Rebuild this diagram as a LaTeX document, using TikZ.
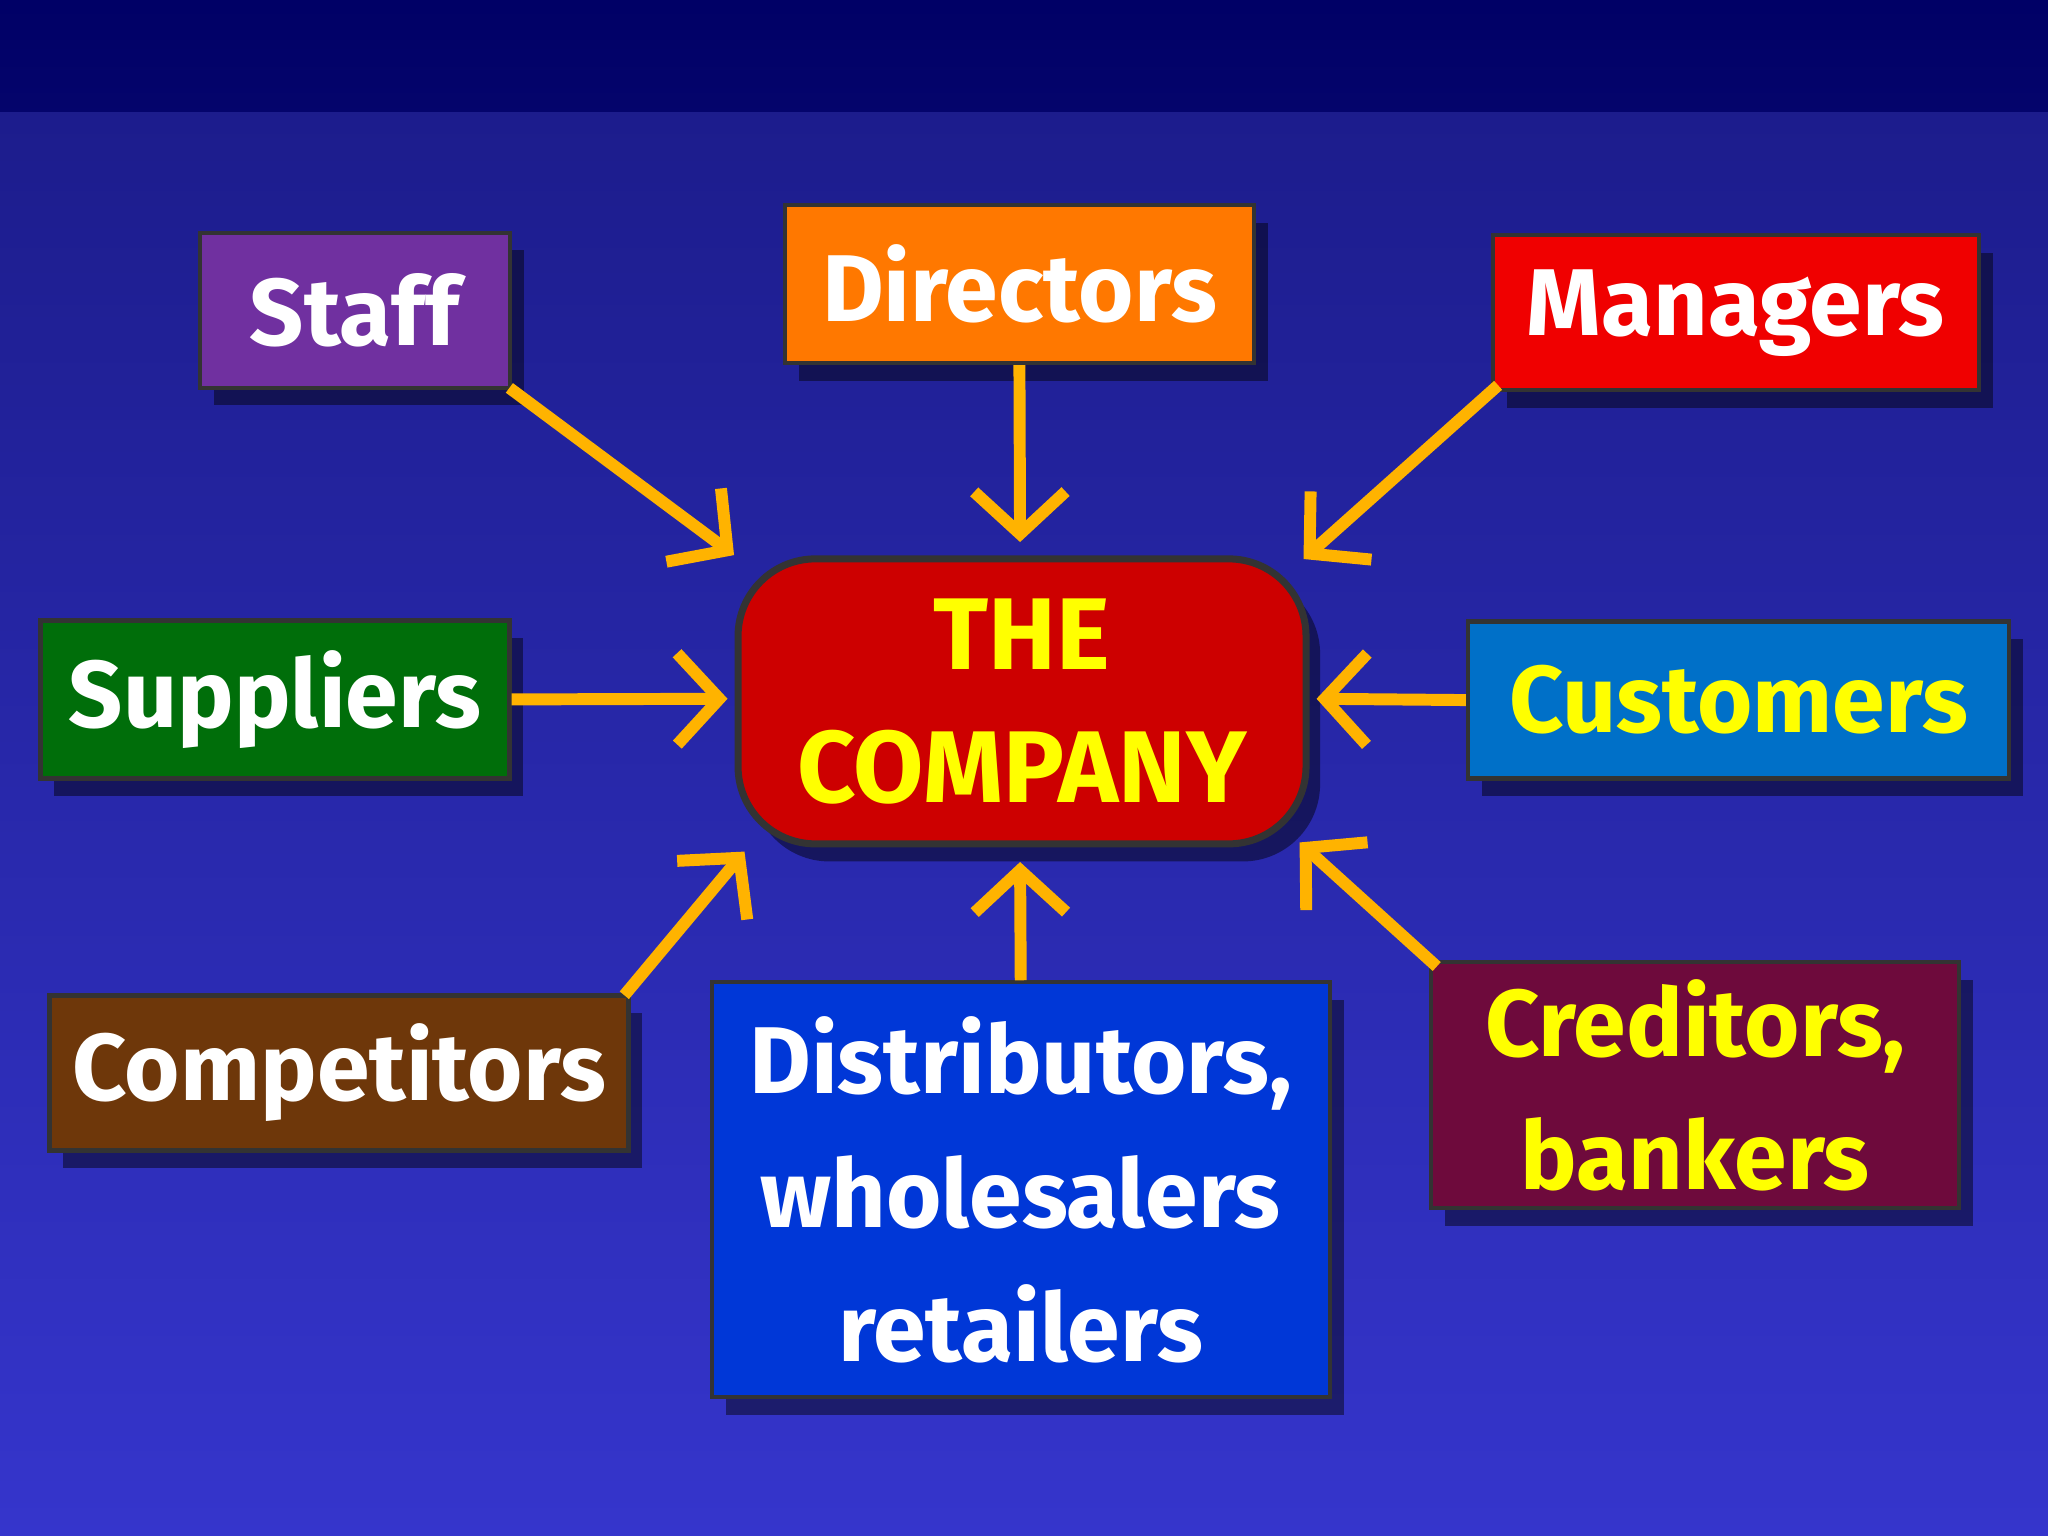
\documentclass[tikz,border=0pt]{standalone}
\usepackage{fontspec}
\setmainfont{Fira Sans}
\usetikzlibrary{arrows.meta,shadows}
\definecolor{navy}{HTML}{000066}
\definecolor{bgA}{HTML}{1C1C8C}
\definecolor{bgB}{HTML}{3535CC}
\definecolor{arr}{HTML}{FFB300}
\definecolor{tyel}{HTML}{FFFF00}
\tikzset{
 box/.style={draw=black!80,line width=1.2pt,inner sep=0pt,align=center,
   font=\fontsize{27}{30}\selectfont\bfseries,text=white,
   drop shadow={shadow xshift=4pt,shadow yshift=-5pt,fill=black,opacity=.45}},
 conn/.style={draw=arr,line width=3.4pt,-{Straight Barb[length=12pt,width=26pt,line width=3.4pt]}}
}
\begin{document}
\begin{tikzpicture}[x=0.013061cm,y=-0.013061cm]
\useasboundingbox (0,0) rectangle (1568,1176);
\shade[top color=bgA,bottom color=bgB] (0,80) rectangle (1568,1176);
\shade[top color=navy,bottom color=navy!85!bgA] (0,0) rectangle (1568,85);
% boxes
\node[box,fill={rgb,255:red,112;green,48;blue,160},minimum width=3.1cm,minimum height=1.55cm] (staff) at (271.5,237.5) {Staff};
\node[box,fill={rgb,255:red,255;green,120;blue,0},minimum width=4.69cm,minimum height=1.58cm] (dir) at (780.5,217.5) {Directors};
\node[box,fill={rgb,255:red,240;green,0;blue,0},minimum width=4.86cm,minimum height=1.55cm] (man) at (1329,239.5) {Managers};
\node[box,fill={rgb,255:red,0;green,110;blue,10},minimum width=4.69cm,minimum height=1.58cm] (sup) at (210.5,535.5) {Suppliers};
\node[box,fill={rgb,255:red,0;green,112;blue,200},text=tyel,minimum width=5.41cm,minimum height=1.57cm] (cus) at (1331,536) {Customers};
\node[box,fill={rgb,255:red,110;green,55;blue,10},minimum width=5.79cm,minimum height=1.55cm] (comp) at (259.5,821.5) {Competitors};
\node[box,fill={rgb,255:red,0;green,55;blue,215},minimum width=6.18cm,minimum height=4.15cm,font=\fontsize{27}{38}\selectfont\bfseries] (dist) at (781.5,911) {Distributors,\\wholesalers\\retailers};
\node[box,fill={rgb,255:red,110;green,10;blue,60},text=tyel,minimum width=5.28cm,minimum height=2.46cm,font=\fontsize{27}{38}\selectfont\bfseries] (cred) at (1298,831) {Creditors,\\bankers};
\node[box,fill={rgb,255:red,205;green,0;blue,0},text=tyel,rounded corners=22pt,minimum width=5.68cm,minimum height=2.85cm,line width=2pt,font=\fontsize{29}{38}\selectfont\bfseries] (co) at (782.5,537) {THE\\COMPANY};
% tips
\coordinate (t1) at (562,425);
\coordinate (t2) at (781,415);
\coordinate (t3) at (998,428);
\coordinate (t4) at (557,535);
\coordinate (t5) at (1008,535);
\coordinate (t6) at (570,652);
\coordinate (t7) at (781,660);
\coordinate (t8) at (995,645);
\coordinate (s1) at (390,297);
\coordinate (s3) at (1147,295);
\coordinate (s6) at (478,762);
\coordinate (s8) at (1100,740);
\draw[conn] (s1) -- (t1);
\draw[conn] (dir.south) -- (t2);
\draw[conn] (s3) -- (t3);
\draw[conn] (sup.east) -- (t4);
\draw[conn] (cus.west) -- (t5);
\draw[conn] (s6) -- (t6);
\draw[conn] (dist.north) -- (t7);
\draw[conn] (s8) -- (t8);
\end{tikzpicture}
\end{document}
